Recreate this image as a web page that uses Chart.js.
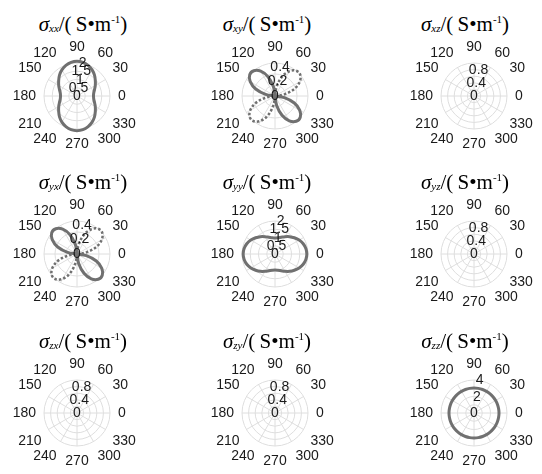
<!DOCTYPE html>
<html>
<head>
<meta charset="utf-8">
<script src="https://cdn.jsdelivr.net/npm/chart.js@4/dist/chart.umd.min.js"></script>
<style>
  html, body { margin: 0; padding: 0; background: #fff; }
  #wrap { position: relative; width: 542px; height: 474px; overflow: hidden; }
  #wrap canvas { position: absolute; }
  .title {
    position: absolute;
    width: 180px;
    height: 24px;
    line-height: 24px;
    text-align: center;
    font-family: "Liberation Serif", "Times New Roman", serif;
    font-size: 21px;
    color: #000;
    white-space: nowrap;
  }
  .title .sig { font-style: italic; }
  .title sub { font-size: 11px; font-style: italic; vertical-align: -1px; }
  .title sup { font-size: 11px; vertical-align: 8px; }
</style>
</head>
<body>
<div id="wrap"></div>
<script>
/* ========================================
   Conductivity tensor components — polar grid
   ======================================== */

// angles in degrees, counter-clockwise from the +x direction
const ANGLES = [0, 10, 20, 30, 40, 50, 60, 70, 80, 90, 100, 110, 120, 130, 140, 150, 160, 170,
  180, 190, 200, 210, 220, 230, 240, 250, 260, 270, 280, 290, 300, 310, 320, 330, 340, 350];

const XX_R = [1.00, 1.03, 1.13, 1.28, 1.45, 1.65, 1.83, 1.97, 2.07, 2.10, 2.07, 1.97, 1.83, 1.65, 1.45, 1.28, 1.13, 1.03,
  1.00, 1.03, 1.13, 1.28, 1.45, 1.65, 1.83, 1.97, 2.07, 2.10, 2.07, 1.97, 1.83, 1.65, 1.45, 1.28, 1.13, 1.03];

const YY_R = [1.93, 1.90, 1.82, 1.69, 1.53, 1.37, 1.21, 1.08, 1.00, 0.97, 1.00, 1.08, 1.21, 1.37, 1.53, 1.69, 1.82, 1.90,
  1.93, 1.90, 1.82, 1.69, 1.53, 1.37, 1.21, 1.08, 1.00, 0.97, 1.00, 1.08, 1.21, 1.37, 1.53, 1.69, 1.82, 1.90];

// off-diagonal terms: positive part (solid) and magnitude of negative part (dotted)
const XY_POS = [0, 0, 0, 0, 0, 0, 0, 0, 0, 0, 0.13, 0.28, 0.39, 0.45, 0.45, 0.39, 0.28, 0.13,
  0, 0, 0, 0, 0, 0, 0, 0, 0, 0, 0.13, 0.28, 0.39, 0.45, 0.45, 0.39, 0.28, 0.13];
const XY_NEG = [0, 0.13, 0.28, 0.39, 0.45, 0.45, 0.39, 0.28, 0.13, 0, 0, 0, 0, 0, 0, 0, 0, 0,
  0, 0.13, 0.28, 0.39, 0.45, 0.45, 0.39, 0.28, 0.13, 0, 0, 0, 0, 0, 0, 0, 0, 0];
const YX_POS = XY_POS;
const YX_NEG = XY_NEG;

const ZZ_R = [3.03, 3.03, 3.03, 3.03, 3.03, 3.03, 3.03, 3.03, 3.03, 3.03, 3.03, 3.03, 3.03, 3.03, 3.03, 3.03, 3.03, 3.03,
  3.03, 3.03, 3.03, 3.03, 3.03, 3.03, 3.03, 3.03, 3.03, 3.03, 3.03, 3.03, 3.03, 3.03, 3.03, 3.03, 3.03, 3.03];

// radial tick labels
const TICKS_DIAG = [0, 0.5, 1, 1.5, 2];
const TICKS_OFF = [0, 0.2, 0.4];
const TICKS_EMPTY = [0, 0.4, 0.8];
const TICKS_ZZ = [0, 2, 4];

const CURVE = '#707070';
const GRID = '#dedede';
const TEXT = '#1a1a1a';
const LABEL_FONT = '14px "Liberation Sans", Arial, sans-serif';

const RADIUS = 33;
const HALF = 80;          // half size of each canvas
const LABEL_GAP = 8;
const LABEL_HALF_H = 7.5;
const COL_X = [77, 275, 474];
const ROW_Y = [96, 254, 413];
const TITLE_X = [83, 267, 465];
const TITLE_Y = [19, 177, 336];

const PANELS = [
  { sub: 'xx', max: 2, step: 0.5, ticks: TICKS_DIAG, solid: XX_R },
  { sub: 'xy', max: 0.45, step: 0.15, ticks: TICKS_OFF, solid: XY_POS, dotted: XY_NEG },
  { sub: 'xz', max: 1, step: 0.2, ticks: TICKS_EMPTY },
  { sub: 'yx', max: 0.45, step: 0.15, ticks: TICKS_OFF, solid: YX_POS, dotted: YX_NEG },
  { sub: 'yy', max: 2, step: 0.5, ticks: TICKS_DIAG, solid: YY_R },
  { sub: 'yz', max: 1, step: 0.2, ticks: TICKS_EMPTY },
  { sub: 'zx', max: 1, step: 0.2, ticks: TICKS_EMPTY },
  { sub: 'zy', max: 1, step: 0.2, ticks: TICKS_EMPTY },
  { sub: 'zz', max: 4, step: 1, ticks: TICKS_ZZ, solid: ZZ_R },
];

// draw order runs clockwise from the right, so walk the angles backwards
const ORDER = ANGLES.map((_, i) => (ANGLES.length - i) % ANGLES.length);

/**
 * Angle labels every 30 degrees plus radial tick labels along 80 degrees
 */
const polarLabels = {
  id: 'polarLabels',
  afterDatasetsDraw(chart, args, opts) {
    const scale = chart.scales.r;
    const ctx = chart.ctx;
    const dist = scale.drawingArea + LABEL_GAP;
    ctx.save();
    ctx.font = LABEL_FONT;
    ctx.fillStyle = TEXT;
    ctx.textAlign = 'center';
    ctx.textBaseline = 'middle';

    // label box sits just outside the ring, its nearest corner on the spoke
    chart.data.labels.forEach((deg, i) => {
      if (deg % 30 !== 0) return;
      const p = scale.getPointPosition(i, dist);
      const ux = (p.x - scale.xCenter) / dist;
      const uy = (p.y - scale.yCenter) / dist;
      const w = ctx.measureText(String(deg)).width;
      const sx = Math.abs(ux) < 0.05 ? 0 : Math.sign(ux);
      const sy = Math.abs(uy) < 0.05 ? 0 : Math.sign(uy);
      ctx.fillText(String(deg), p.x + sx * w / 2, p.y + sy * LABEL_HALF_H);
    });

    const a = 80 * Math.PI / 180;
    (opts.ticks || []).forEach(v => {
      const d = scale.getDistanceFromCenterForValue(v);
      ctx.fillText(String(v), scale.xCenter + d * Math.cos(a), scale.yCenter - d * Math.sin(a));
    });
    ctx.restore();
  },
};

function lineDataset(values, dashed) {
  return {
    data: ORDER.map(i => values[i]),
    borderColor: CURVE,
    backgroundColor: 'transparent',
    borderWidth: dashed ? 2.5 : 3,
    borderDash: dashed ? [2.5, 2] : [],
    borderJoinStyle: 'round',
    pointRadius: 0,
    pointHoverRadius: 0,
    fill: false,
    tension: 0.35,
    clip: false,
  };
}

function renderPanel(panel, idx) {
  const wrap = document.getElementById('wrap');
  const col = idx % 3;
  const row = Math.floor(idx / 3);

  const title = document.createElement('div');
  title.className = 'title';
  title.style.left = (TITLE_X[col] - 90) + 'px';
  title.style.top = (TITLE_Y[row] - 12) + 'px';
  title.innerHTML = '<span class="sig">σ</span><sub>' + panel.sub + '</sub>/(&#8201;S•m<sup>-1</sup>)';
  wrap.appendChild(title);

  const canvas = document.createElement('canvas');
  canvas.width = HALF * 2;
  canvas.height = HALF * 2;
  canvas.style.left = (COL_X[col] - HALF) + 'px';
  canvas.style.top = (ROW_Y[row] - HALF) + 'px';
  wrap.appendChild(canvas);

  const datasets = [];
  if (panel.dotted) datasets.push(lineDataset(panel.dotted, true));
  if (panel.solid) datasets.push(lineDataset(panel.solid, false));

  new Chart(canvas, {
    type: 'radar',
    data: {
      labels: ORDER.map(i => ANGLES[i]),
      datasets,
    },
    options: {
      responsive: false,
      animation: false,
      events: [],
      layout: { padding: HALF - RADIUS },
      elements: { line: { capBezierPoints: false } },
      plugins: {
        legend: { display: false },
        tooltip: { enabled: false },
        polarLabels: { ticks: panel.ticks },
      },
      scales: {
        r: {
          min: 0,
          max: panel.max,
          startAngle: 90,
          ticks: { display: false, stepSize: panel.step },
          grid: { circular: true, color: GRID, lineWidth: 1 },
          angleLines: {
            color: GRID,
            lineWidth: ctx => (ctx.label % 30 === 0 ? 1 : 0),
          },
          pointLabels: { display: false },
        },
      },
    },
    plugins: [polarLabels],
  });
}

PANELS.forEach(renderPanel);
</script>
</body>
</html>
